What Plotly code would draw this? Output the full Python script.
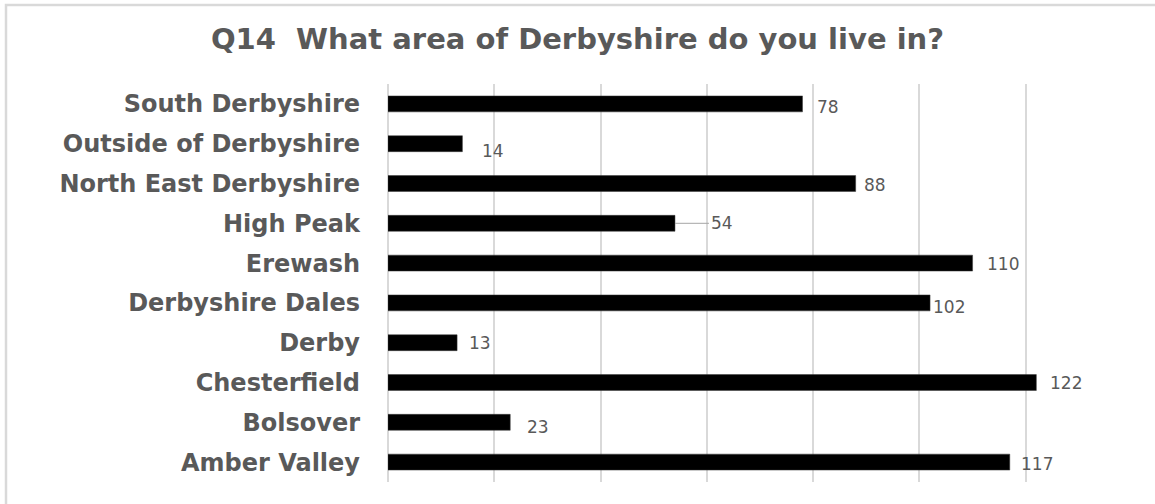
import plotly.graph_objects as go

# Data (top to bottom as shown)
areas = ["South Derbyshire", "Outside of Derbyshire", "North East Derbyshire",
         "High Peak", "Erewash", "Derbyshire Dales", "Derby",
         "Chesterfield", "Bolsover", "Amber Valley"]
counts = [78, 14, 88, 54, 110, 102, 13, 122, 23, 117]
tick_values = [0, 20, 40, 60, 80, 100, 120, 140]

# Label nudges (pixels): horizontal gap after bar end, downward shift
label_dx = [12, 18, 6, 0, 12, 1, 10, 12, 15, 9]
label_dy = [3, 7, 1, 0, 1, 4, 0, 0, 5, 2]

TXT = "#595959"
GRID = "#d9d9d9"

fig = go.Figure()
fig.add_trace(go.Bar(
    y=areas, x=counts, orientation="h",
    marker=dict(color="#000000", line=dict(color="#3a3a3a", width=0.5)),
    width=0.4, hoverinfo="x+y",
))

annotations = []
for a, c, dx, dy in zip(areas, counts, label_dx, label_dy):
    if a == "High Peak":
        annotations.append(dict(
            x=c, y=a, xref="x", yref="y", text=str(c),
            showarrow=True, arrowhead=0, arrowwidth=1, arrowcolor="#a6a6a6",
            ax=34, ay=0, xanchor="left", yanchor="middle", standoff=0,
            font=dict(family="DejaVu Sans", size=17, color=TXT)))
    else:
        annotations.append(dict(
            x=c, y=a, xref="x", yref="y", text=str(c), showarrow=False,
            xanchor="left", yanchor="middle", xshift=dx, yshift=-dy,
            font=dict(family="DejaVu Sans", size=17, color=TXT)))

fig.update_layout(
    width=1155, height=504,
    margin=dict(l=388, r=23, t=84, b=22),
    paper_bgcolor="white", plot_bgcolor="white",
    title=dict(text="Q14  What area of Derbyshire do you live in?",
               x=0.5, xanchor="center", y=1 - 39 / 504, yanchor="middle",
               font=dict(family="DejaVu Sans", size=29, color=TXT, weight="bold")),
    xaxis=dict(range=[0, 140], tickvals=tick_values, showticklabels=False,
               showgrid=True, gridcolor=GRID, gridwidth=2,
               zeroline=True, zerolinecolor=GRID, zerolinewidth=2,
               showline=False, fixedrange=True),
    yaxis=dict(autorange="reversed", showgrid=False, zeroline=False,
               showline=False, ticks="", ticklabelstandoff=27,
               tickfont=dict(family="DejaVu Sans", size=24, color=TXT, weight="bold")),
    showlegend=False,
    annotations=annotations,
    shapes=[dict(type="rect", xref="paper", yref="paper",
                 x0=(6 - 388) / 744, x1=(1165 - 388) / 744,
                 y0=(482 - 515) / 398, y1=(482 - 5) / 398,
                 line=dict(color="#d9d9d9", width=2.5), fillcolor="rgba(0,0,0,0)",
                 layer="below")],
)

fig.write_html("out.html",
               config={"displayModeBar": False},
               post_script="document.body.style.margin='0';document.body.style.overflow='hidden';")
